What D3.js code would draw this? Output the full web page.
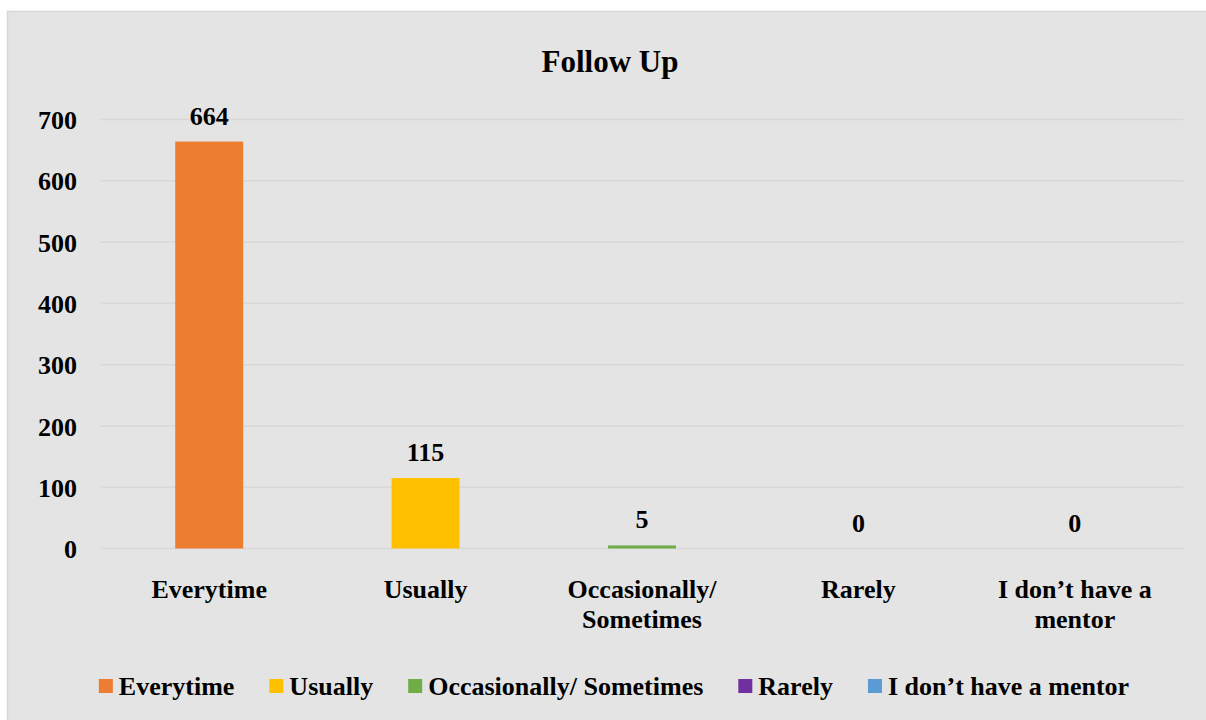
<!DOCTYPE html>
<html><head><meta charset="utf-8">
<script src="https://cdn.jsdelivr.net/npm/d3@7"></script>
<style>body{margin:0;background:#fff}svg{display:block}</style>
</head><body><svg id="c" width="1206" height="720"></svg>
<script>
const categories = ["Everytime","Usually","Occasionally/ Sometimes","Rarely","I don\u2019t have a mentor"];
const catLines = [["Everytime"],["Usually"],["Occasionally/","Sometimes"],["Rarely"],["I don\u2019t have a","mentor"]];
const values = [664,115,5,0,0];
const colors = ["#ed7d31","#ffc000","#70ad47","#7030a0","#5b9bd5"];
const yTicks = [0,100,200,300,400,500,600,700];
const title = "Follow Up";

const svg = d3.select("#c");
const font = "'Liberation Serif','Times New Roman',serif";
const fs = 26;
svg.append("rect").attr("x",7.5).attr("y",11.5).attr("width",1200).attr("height",710)
  .attr("fill","#e4e4e4").attr("stroke","#d6d6d6").attr("stroke-width",1.5);

const x = d3.scaleBand().domain(categories).range([101,1183]).paddingInner(0).paddingOuter(0);
const y = d3.scaleLinear().domain([0,700]).range([548.5,119.5]);
const bw = x.step()*0.314;

const g = svg.append("g");
g.selectAll("line.grid").data(yTicks).join("line").attr("class","grid")
  .attr("x1",101).attr("x2",1183).attr("y1",d=>y(d)).attr("y2",d=>y(d))
  .attr("stroke","#d8d8d8").attr("stroke-width",1.5);

const yAxis = d3.axisLeft(y).tickValues(yTicks).tickSize(0).tickPadding(0);
const ya = svg.append("g").attr("transform","translate(77,0)").call(yAxis);
ya.select(".domain").remove();
ya.selectAll("text").attr("font-family",font).attr("font-weight","bold").attr("font-size",fs).attr("fill","#000").attr("dy","0.35em");

g.selectAll("rect.bar").data(values).join("rect").attr("class","bar")
  .attr("x",(d,i)=>x(categories[i])+x.bandwidth()/2-bw/2)
  .attr("width",bw)
  .attr("y",d=>y(d)).attr("height",d=>Math.max(0,y(0)-y(d)))
  .attr("fill",(d,i)=>colors[i]);
g.selectAll("text.val").data(values).join("text").attr("class","val")
  .attr("x",(d,i)=>x(categories[i])+x.bandwidth()/2)
  .attr("y",d=>y(d)-17)
  .attr("text-anchor","middle").attr("font-family",font).attr("font-weight","bold").attr("font-size",fs)
  .text(d=>d);

const xl = g.selectAll("text.cat").data(catLines).join("text").attr("class","cat")
  .attr("text-anchor","middle").attr("font-family",font).attr("font-weight","bold").attr("font-size",fs)
  .attr("transform",(d,i)=>`translate(${x(categories[i])+x.bandwidth()/2},598)`);
xl.selectAll("tspan").data(d=>d).join("tspan").attr("x",0).attr("y",(d,i)=>i*30).text(d=>d);

svg.append("text").attr("x",610).attr("y",72).attr("text-anchor","middle")
  .attr("font-family",font).attr("font-weight","bold").attr("font-size",31).text(title);

// legend
const lg = svg.append("g");
let lx = 0;
const gap = 35;
categories.forEach((c,i)=>{
  const it = lg.append("g");
  it.append("rect").attr("x",0).attr("y",-16).attr("width",14).attr("height",14).attr("fill",colors[i]);
  const t = it.append("text").attr("x",20).attr("y",0).attr("font-family",font).attr("font-weight","bold").attr("font-size",fs).text(c);
  const w = 20 + t.node().getComputedTextLength();
  it.attr("transform",`translate(${lx},0)`);
  lx += w + gap;
});
lx -= gap;
lg.attr("transform",`translate(${614 - lx/2},695)`);
</script></body></html>
